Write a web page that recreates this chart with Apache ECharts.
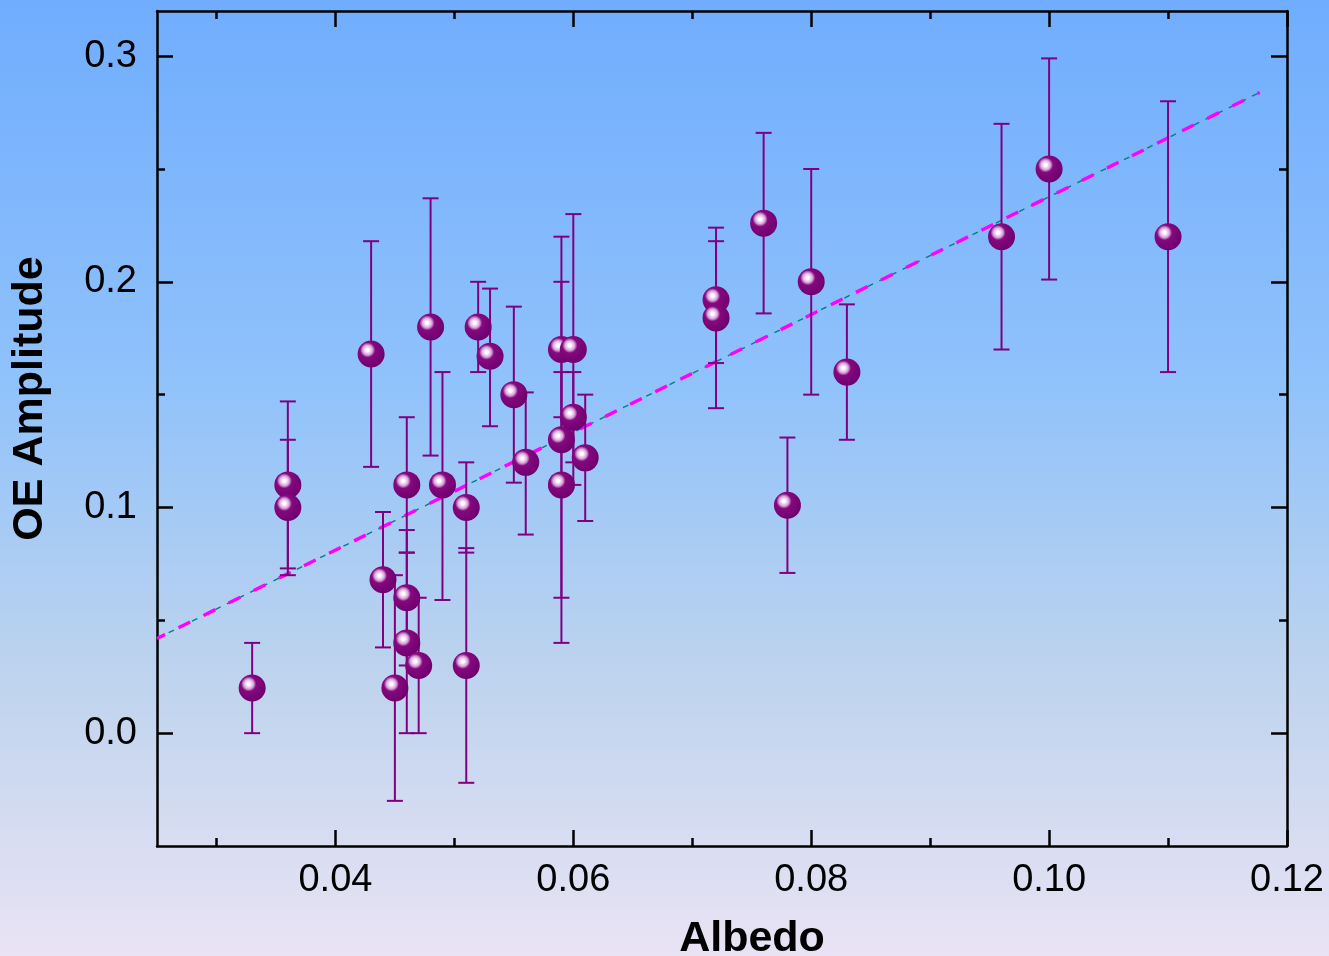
<!DOCTYPE html>
<html>
<head>
<meta charset="utf-8">
<title>OE Amplitude vs Albedo</title>
<script src="https://cdn.jsdelivr.net/npm/echarts@6/dist/echarts.min.js"></script>
<style>
  html, body { margin: 0; padding: 0; width: 100%; height: 100%; overflow: hidden; }
  #chart { width: 1329px; height: 956px; }
</style>
</head>
<body>
<div id="chart"></div>
<script>
// Measured albedo and opposition-effect amplitude with error bar limits
const albedo = [0.033, 0.036, 0.036, 0.043, 0.044, 0.045, 0.046, 0.046, 0.046, 0.047, 0.048,
  0.049, 0.051, 0.051, 0.052, 0.053, 0.055, 0.056, 0.059, 0.059, 0.059, 0.060, 0.060, 0.061,
  0.072, 0.072, 0.076, 0.078, 0.080, 0.083, 0.096, 0.100, 0.110];
const amplitude = [0.020, 0.110, 0.100, 0.168, 0.068, 0.020, 0.110, 0.060, 0.040, 0.030, 0.180,
  0.110, 0.100, 0.030, 0.180, 0.167, 0.150, 0.120, 0.170, 0.130, 0.110, 0.170, 0.140, 0.122,
  0.192, 0.184, 0.226, 0.101, 0.200, 0.160, 0.220, 0.250, 0.220];
const errLow = [0.000, 0.073, 0.070, 0.118, 0.038, -0.030, 0.080, 0.030, 0.000, 0.000, 0.123,
  0.059, 0.080, -0.022, 0.160, 0.136, 0.111, 0.088, 0.140, 0.060, 0.040, 0.110, 0.120, 0.094,
  0.164, 0.144, 0.186, 0.071, 0.150, 0.130, 0.170, 0.201, 0.160];
const errHigh = [0.040, 0.147, 0.130, 0.218, 0.098, 0.070, 0.140, 0.090, 0.080, 0.060, 0.237,
  0.160, 0.120, 0.082, 0.200, 0.197, 0.189, 0.151, 0.220, 0.200, 0.160, 0.230, 0.160, 0.150,
  0.218, 0.224, 0.266, 0.131, 0.250, 0.190, 0.270, 0.299, 0.280];

// Linear fit
const fitSlope = 2.61;
const fitIntercept = -0.0233;
const fitRange = [0.025, 0.1177];

// Axis ranges and tick positions
const xRange = [0.025, 0.12];
const yRange = [-0.05, 0.32];
const xMajorTicks = [0.04, 0.06, 0.08, 0.10, 0.12];
const xMinorTicks = [0.03, 0.05, 0.07, 0.09, 0.11];
const yMajorTicks = [0.0, 0.1, 0.2, 0.3];
const yMinorTicks = [0.05, 0.15, 0.25];

const xTitle = 'Albedo';
const yTitle = 'OE Amplitude';

const FONT = '"Liberation Sans", Arial, Helvetica, sans-serif';
const PURPLE = '#800080';

const points = albedo.map((x, i) => [x, amplitude[i]]);
const errors = albedo.map((x, i) => [x, errLow[i], errHigh[i]]);
const fitLine = fitRange.map(x => [x, fitIntercept + fitSlope * x]);

function axisCommon(pos) {
  const isX = pos === 'top' || pos === 'bottom';
  return {
    type: 'value', position: pos,
    min: isX ? xRange[0] : yRange[0],
    max: isX ? xRange[1] : yRange[1],
    splitLine: { show: false },
    axisLabel: { show: false },
    axisLine: { show: false, onZero: false }
  };
}
function majorAxis(pos, values, withLabel) {
  const a = axisCommon(pos);
  a.axisLine = { show: true, onZero: false, lineStyle: { color: '#000', width: 2.5 } };
  a.axisTick = { show: true, inside: true, length: 16, customValues: values,
    lineStyle: { color: '#000', width: 2.5 } };
  if (withLabel) {
    const isX = pos === 'bottom';
    a.axisLabel = {
      show: true, customValues: values,
      margin: isX ? 16 : 20,
      color: '#000', fontFamily: FONT, fontSize: 38,
      formatter: v => isX ? Number(v).toFixed(2) : Number(v).toFixed(1)
    };
  }
  return a;
}
function minorAxis(pos, values) {
  const a = axisCommon(pos);
  a.axisTick = { show: true, inside: true, length: 8, customValues: values,
    lineStyle: { color: '#000', width: 2.5 } };
  return a;
}

const xBottom = majorAxis('bottom', xMajorTicks, true);
xBottom.name = xTitle;
xBottom.nameLocation = 'middle';
xBottom.nameGap = 72;
xBottom.nameTextStyle = { fontFamily: FONT, fontSize: 43, fontWeight: 'bold', color: '#000',
  padding: [0, 0, 0, 60] };

const yLeft = majorAxis('left', yMajorTicks, true);
yLeft.name = yTitle;
yLeft.nameLocation = 'middle';
yLeft.nameGap = 105;
yLeft.nameTextStyle = { fontFamily: FONT, fontSize: 43, fontWeight: 'bold', color: '#000',
  padding: [0, 0, 0, 60] };

const sphere = {
  type: 'radial', x: 0.37, y: 0.35, r: 0.66,
  colorStops: [
    { offset: 0.0, color: '#ffffff' },
    { offset: 0.09, color: '#ffffff' },
    { offset: 0.15, color: '#f4d8f4' },
    { offset: 0.26, color: '#deaede' },
    { offset: 0.34, color: '#b468b4' },
    { offset: 0.42, color: '#86087f' },
    { offset: 1.0, color: '#6e006e' }
  ]
};

const chart = echarts.init(document.getElementById('chart'), null, { renderer: 'canvas' });
chart.setOption({
  animation: false,
  backgroundColor: {
    type: 'linear', x: 0, y: 0, x2: 0, y2: 1,
    colorStops: [
      { offset: 0, color: '#70adfe' },
      { offset: 0.4, color: '#90c2fb' },
      { offset: 0.7, color: '#bdd3ee' },
      { offset: 1, color: '#e9e3f4' }
    ]
  },
  grid: { left: 157, right: 42, top: 11, bottom: 110, containLabel: false, outerBoundsMode: 'none' },
  xAxis: [
    xBottom,
    minorAxis('bottom', xMinorTicks),
    majorAxis('top', xMajorTicks, false),
    minorAxis('top', xMinorTicks)
  ],
  yAxis: [
    yLeft,
    minorAxis('left', yMinorTicks),
    majorAxis('right', yMajorTicks, false),
    minorAxis('right', yMinorTicks)
  ],
  series: [
    {
      name: 'fit-base', type: 'line', data: fitLine, xAxisIndex: 0, yAxisIndex: 0,
      showSymbol: false, silent: true, z: 2,
      lineStyle: { color: '#008080', width: 1.4, type: [6, 7] }
    },
    {
      name: 'fit', type: 'line', data: fitLine, xAxisIndex: 0, yAxisIndex: 0,
      showSymbol: false, silent: true, z: 3,
      lineStyle: { color: '#ff00ff', width: 3.4, type: [13, 15], dashOffset: 4 }
    },
    {
      name: 'error', type: 'custom', data: errors, xAxisIndex: 0, yAxisIndex: 0, z: 4,
      encode: { x: 0, y: [1, 2] },
      renderItem: function (params, api) {
        const x = api.value(0);
        const lo = api.coord([x, api.value(1)]);
        const hi = api.coord([x, api.value(2)]);
        const cap = 8;
        const style = { stroke: PURPLE, lineWidth: 2, fill: null };
        return {
          type: 'group',
          children: [
            { type: 'line', shape: { x1: lo[0], y1: lo[1], x2: hi[0], y2: hi[1] }, style },
            { type: 'line', shape: { x1: hi[0] - cap, y1: hi[1], x2: hi[0] + cap, y2: hi[1] }, style },
            { type: 'line', shape: { x1: lo[0] - cap, y1: lo[1], x2: lo[0] + cap, y2: lo[1] }, style }
          ]
        };
      }
    },
    {
      name: 'OE amplitude', type: 'scatter', data: points, xAxisIndex: 0, yAxisIndex: 0, z: 5,
      symbol: 'circle', symbolSize: 27,
      itemStyle: { color: sphere, opacity: 1 }
    }
  ]
});
</script>
</body>
</html>
